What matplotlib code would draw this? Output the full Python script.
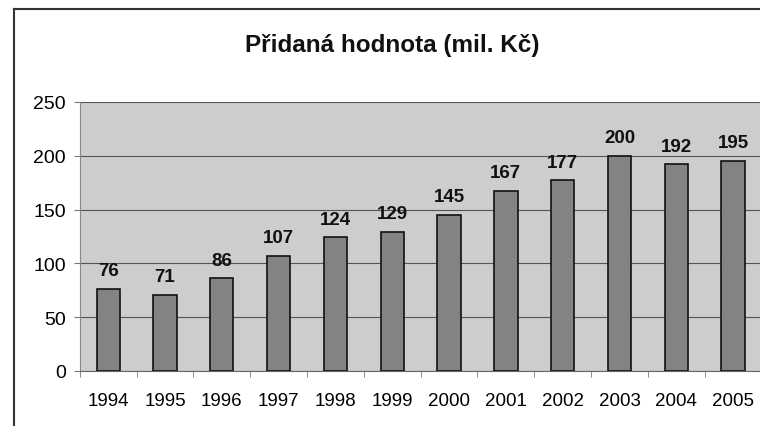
import numpy as np
import matplotlib.pyplot as plt
from matplotlib.lines import Line2D

# Data
years = ['1994', '1995', '1996', '1997', '1998', '1999',
         '2000', '2001', '2002', '2003', '2004', '2005']
values = [76, 71, 86, 107, 124, 129, 145, 167, 177, 200, 192, 195]
yticks = [0, 50, 100, 150, 200, 250]

plt.rcParams['font.family'] = ['Liberation Sans', 'DejaVu Sans']

fig = plt.figure(figsize=(7.6, 4.27), dpi=100)
ax = fig.add_axes([0.105, 0.129, 0.897, 0.630])

x = np.arange(len(years))
ax.set_facecolor('#cdcdcd')
ax.bar(x, values, width=0.41, color='#838383', edgecolor='#111111', linewidth=1.2, zorder=3)

for xi, v in zip(x, values):
    ax.annotate(str(v), (xi, v), xytext=(0, 7), textcoords='offset points',
                ha='center', va='bottom', fontsize=13.5, fontweight='bold', color='#111111')

ax.set_xlim(-0.5, len(years) - 0.5)
ax.set_ylim(0, 250)
ax.set_yticks(yticks)
ax.set_xticks(x)
ax.set_xticklabels(years)
ax.set_xticks(np.arange(len(years) + 1) - 0.5, minor=True)
ax.tick_params(axis='x', which='major', length=0, pad=15, labelsize=13.5)
ax.tick_params(axis='x', which='minor', length=4, color='#777777')
ax.tick_params(axis='y', length=4, color='#777777', pad=6, labelsize=14)
ax.grid(axis='y', color='#555555', linewidth=0.8, zorder=1)

for side in ['top', 'right']:
    ax.spines[side].set_visible(False)
ax.spines['left'].set_color('#888888')
ax.spines['bottom'].set_color('#666666')

# outer chart frame
fig.add_artist(Line2D([0.019, 1.0], [0.977, 0.977], transform=fig.transFigure,
                      color='#333333', lw=1.5))
fig.add_artist(Line2D([0.019, 0.019], [0.0, 0.977], transform=fig.transFigure,
                      color='#333333', lw=1.5))

fig.text(0.516, 0.893, 'Přidaná hodnota (mil. Kč)', ha='center', va='center',
         fontsize=17.5, fontweight='bold', color='#111111')

fig.savefig('out.png', dpi=100)
